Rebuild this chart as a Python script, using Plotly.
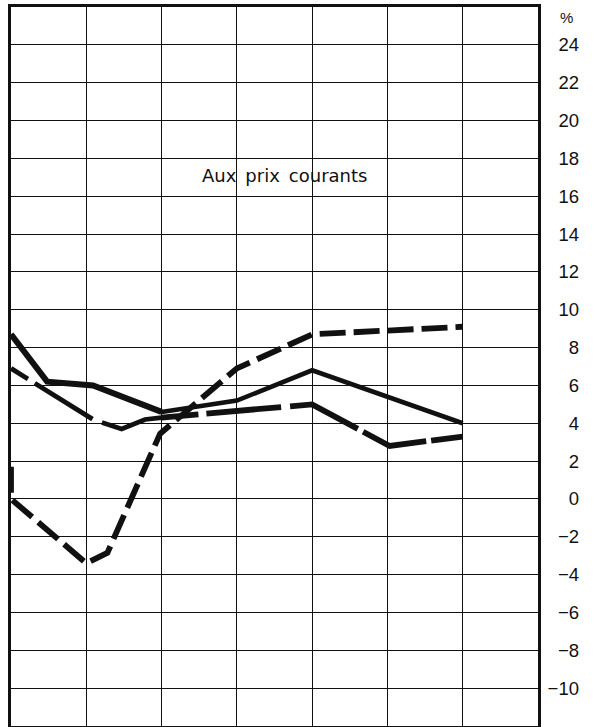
import plotly.graph_objects as go

# Horizontal positions are in grid-column units (0 = left frame, 7 = right frame)
x_a = [0, 0.48, 1.09, 2.0]
y_a = [8.7, 6.2, 6.0, 4.6]
x_a2 = [2.0, 3.0, 4.0, 6.0]
y_a2 = [4.6, 5.2, 6.8, 4.0]

x_b = [0, 1.09, 1.47, 1.78, 2.0]
y_b = [6.9, 4.2, 3.7, 4.2, 4.3]
x_b2 = [2.0, 4.0, 5.03, 6.0]
y_b2 = [4.3, 5.0, 2.8, 3.3]

x_c = [0, 0, 1.0, 1.28, 1.98, 3.0, 4.0, 6.0]
y_c = [1.7, 0.0, -3.4, -2.85, 3.45, 6.9, 8.7, 9.1]

tick_vals = list(range(-10, 25, 2))
tick_text = [("\u2212" + str(-v)) if v < 0 else str(v) for v in tick_vals]

INK = "#111111"
FONT = "Liberation Sans, Arial, sans-serif"

fig = go.Figure()

# Solid line: heavier on the first stretch
fig.add_trace(go.Scatter(x=x_a, y=y_a, mode="lines",
                         line=dict(color=INK, width=6), cliponaxis=False))
fig.add_trace(go.Scatter(x=x_a2, y=y_a2, mode="lines",
                         line=dict(color=INK, width=4.6), cliponaxis=False))

# Long-dash line
fig.add_trace(go.Scatter(x=x_b, y=y_b, mode="lines",
                         line=dict(color=INK, width=4.8,
                                   dash="20px,8px,68px,10px,200px"),
                         cliponaxis=False))
fig.add_trace(go.Scatter(x=x_b2, y=y_b2, mode="lines",
                         line=dict(color=INK, width=5.8,
                                   dash="37px,8px,75px,9px,74px,6px,67px,5px,60px"),
                         cliponaxis=False))

# Short-dash line
fig.add_trace(go.Scatter(x=x_c, y=y_c, mode="lines",
                         line=dict(color=INK, width=5.8, dash="26px,8px"),
                         cliponaxis=False))

# Empty trace carrying the right-hand label axis
fig.add_trace(go.Scatter(x=[None], y=[None], yaxis="y2", mode="lines",
                         hoverinfo="skip"))

fig.add_annotation(x=3.63, y=17.1, xref="x", yref="y",
                   text="Aux\u2002prix\u2002courants",
                   showarrow=False, xanchor="center", yanchor="middle",
                   font=dict(family="DejaVu Sans, sans-serif", size=18, color=INK))
fig.add_annotation(x=(558 - 11) / 571, y=1 - (17 - 7) / 719, xref="paper", yref="paper",
                   text="%", showarrow=False, xanchor="left", yanchor="middle",
                   font=dict(family=FONT, size=15, color=INK))

fig.update_layout(
    width=597, height=727,
    margin=dict(l=11, r=15, t=7, b=1),
    paper_bgcolor="white", plot_bgcolor="white",
    showlegend=False,
    xaxis=dict(domain=[0, 527 / 571], range=[0, 7], tick0=0, dtick=1,
               showgrid=True, gridcolor=INK, gridwidth=1.2,
               showline=True, linecolor=INK, linewidth=2.5, mirror=True,
               showticklabels=False, ticks="", zeroline=False),
    yaxis=dict(range=[-12, 26], tick0=0, dtick=2,
               showgrid=True, gridcolor=INK, gridwidth=1.2,
               showline=True, linecolor=INK, linewidth=2.5, mirror=True,
               showticklabels=False, ticks="", zeroline=False),
    yaxis2=dict(overlaying="y", anchor="free", position=1, side="right",
                range=[-12, 26], tickvals=tick_vals, ticktext=tick_text,
                ticklabelposition="inside", showgrid=False, showline=False,
                zeroline=False, ticks="",
                tickfont=dict(family=FONT, size=18.5, color=INK)),
)

fig.write_html("out.html")
